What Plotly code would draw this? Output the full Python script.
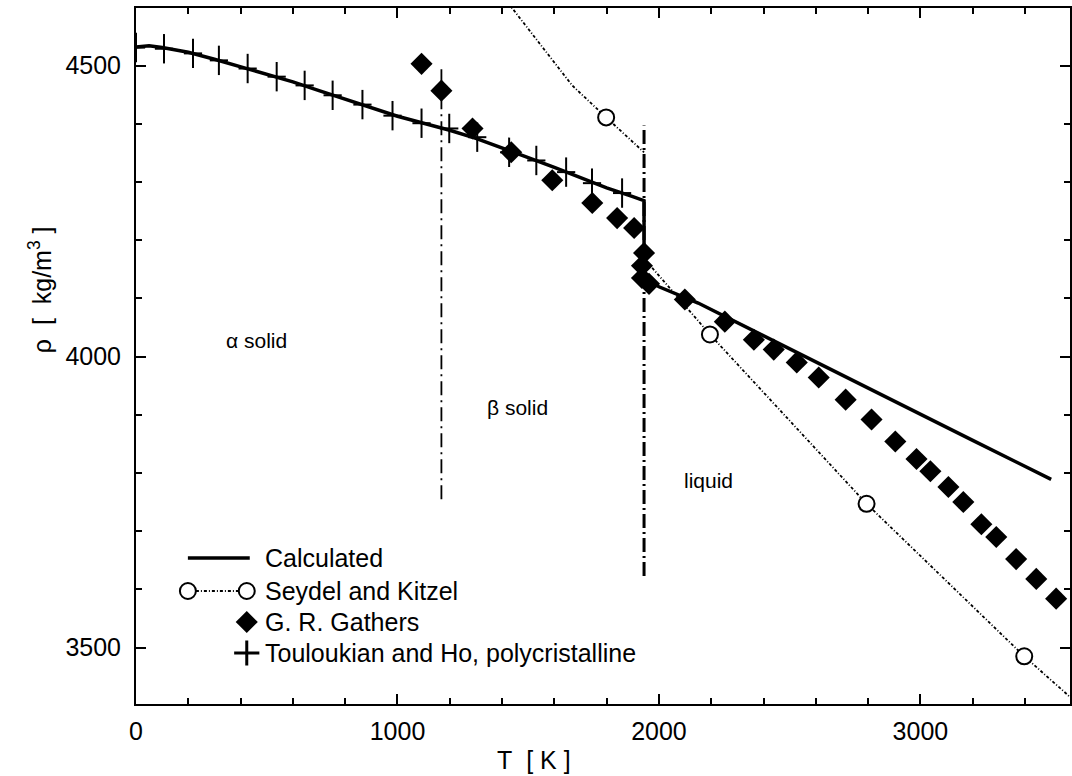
import plotly.graph_objects as go

# Density of titanium versus temperature
FONT = "Liberation Sans"

# Calculated curve (solid, beta solid, drop at melting, liquid)
calc_T = [0, 50, 100, 200, 300, 400, 500, 600, 700, 800, 900, 1000, 1100, 1200,
          1300, 1400, 1500, 1600, 1700, 1800, 1900, 1943, 1943, 2000, 2150, 2500,
          2900, 3200, 3500]
calc_rho = [4532, 4534, 4531, 4523, 4511, 4498, 4486, 4472, 4457, 4442, 4428, 4413,
            4401, 4389, 4375, 4359, 4342, 4325, 4307, 4290, 4275, 4268, 4134, 4120,
            4092, 4013, 3923, 3856, 3789]

# Seydel and Kitzel: measured points and connecting curve (two branches)
seydel_T = [1798, 2195, 2794, 3397]
seydel_rho = [4411, 4038, 3747, 3485]
seydel_line_T = [1350, 1668, 1798, 1943, None, 1954, 2195, 2794, 3397, 3700]
seydel_line_rho = [4650, 4466, 4411, 4351, None, 4163, 4038, 3747, 3485, 3364]

# G. R. Gathers
gathers_T = [1092, 1168, 1287, 1435, 1592, 1745, 1840, 1905, 1943, 1935, 1935, 1962,
             2099, 2252, 2363, 2439, 2527, 2611, 2714, 2813, 2904, 2985, 3038, 3107,
             3164, 3233, 3290, 3366, 3443, 3519]
gathers_rho = [4503, 4457, 4392, 4351, 4303, 4264, 4238, 4221, 4178, 4156, 4135, 4125,
               4098, 4060, 4029, 4012, 3990, 3964, 3926, 3892, 3854, 3824, 3803, 3776,
               3750, 3712, 3690, 3652, 3618, 3584]

# Touloukian and Ho, polycristalline
toul_T = [0, 107, 218, 317, 427, 538, 645, 752, 866, 981, 1092, 1198, 1305, 1427,
          1531, 1645, 1744, 1859]
toul_rho = [4531, 4529, 4521, 4509, 4495, 4481, 4466, 4449, 4433, 4414, 4401, 4392,
            4377, 4351, 4337, 4317, 4298, 4281]

# Phase boundaries
alpha_beta_T = [1168, 1168]
alpha_beta_rho = [3755, 4500]
melt_T = [1943, 1943]
melt_rho = [3623, 4397]

# Region labels
region_labels = ["\u03b1 solid", "\u03b2 solid", "liquid"]

legend_labels = ["Calculated", "Seydel and Kitzel", "G. R. Gathers",
                 "Touloukian and Ho, polycristalline"]

DOTTED = "3px,2px,1px,2px"

fig = go.Figure()

fig.add_trace(go.Scatter(x=alpha_beta_T, y=alpha_beta_rho, mode="lines",
                         line=dict(color="black", width=1.8, dash="14px,5px,2px,5px"),
                         showlegend=False, hoverinfo="skip"))
fig.add_trace(go.Scatter(x=melt_T, y=melt_rho, mode="lines",
                         line=dict(color="black", width=3, dash="14px,4px,2px,4px"),
                         showlegend=False, hoverinfo="skip"))
fig.add_trace(go.Scatter(x=seydel_line_T, y=seydel_line_rho, mode="lines",
                         line=dict(color="black", width=1.8, dash=DOTTED),
                         connectgaps=False, showlegend=False, hoverinfo="skip"))
fig.add_trace(go.Scatter(x=calc_T, y=calc_rho, mode="lines",
                         line=dict(color="black", width=3.5), showlegend=False))
# "+" marks: tall vertical stroke with a shorter horizontal stroke
fig.add_trace(go.Scatter(x=toul_T, y=toul_rho, mode="markers",
                         marker=dict(symbol="line-ns", size=21,
                                     line=dict(color="black", width=2)),
                         showlegend=False))
fig.add_trace(go.Scatter(x=toul_T, y=toul_rho, mode="markers",
                         marker=dict(symbol="line-ew", size=13,
                                     line=dict(color="black", width=2)),
                         showlegend=False, hoverinfo="skip"))
fig.add_trace(go.Scatter(x=gathers_T, y=gathers_rho, mode="markers",
                         marker=dict(symbol="diamond", size=17, color="black"),
                         showlegend=False))
fig.add_trace(go.Scatter(x=seydel_T, y=seydel_rho, mode="markers",
                         marker=dict(symbol="circle", size=16, color="white",
                                     line=dict(color="black", width=2)),
                         showlegend=False))

# Legend keys drawn on a pixel-scaled overlay axis
L = dict(xaxis="x2", yaxis="y2", showlegend=False, hoverinfo="skip")
fig.add_trace(go.Scatter(x=[188, 250], y=[558, 558], mode="lines",
                         line=dict(color="black", width=3.5), **L))
fig.add_trace(go.Scatter(x=[188, 247], y=[591, 591], mode="lines+markers",
                         line=dict(color="black", width=1.8, dash=DOTTED),
                         marker=dict(symbol="circle", size=16, color="white",
                                     line=dict(color="black", width=2)), **L))
fig.add_trace(go.Scatter(x=[247], y=[622], mode="markers",
                         marker=dict(symbol="diamond", size=17, color="black"), **L))
fig.add_trace(go.Scatter(x=[247], y=[653], mode="markers",
                         marker=dict(symbol="cross-thin", size=18,
                                     line=dict(color="black", width=3)), **L))

annotations = []
for lbl, yy in zip(legend_labels, [558, 591, 622, 653]):
    annotations.append(dict(x=263, y=yy, xref="x2", yref="y2", text=lbl,
                            showarrow=False, xanchor="left", yanchor="middle",
                            font=dict(family=FONT, size=25, color="black")))
for lbl, (xx, yy) in zip(region_labels, [(257, 340), (518, 407), (710, 480)]):
    annotations.append(dict(x=xx, y=yy, xref="x2", yref="y2", text=lbl,
                            showarrow=False, xanchor="center", yanchor="middle",
                            font=dict(family=FONT, size=21, color="black")))

# Axis titles placed in paper coordinates
annotations.append(dict(x=0.4263, y=-0.0805, xref="paper", yref="paper",
                        text="T\u00a0\u00a0[\u00a0K\u00a0]", showarrow=False,
                        xanchor="center", yanchor="middle",
                        font=dict(family=FONT, size=25, color="black")))
annotations.append(dict(x=-0.1026, y=0.5948, xref="paper", yref="paper", textangle=-90,
                        text="\u03c1\u00a0\u00a0[\u00a0\u00a0kg/m<sup>3</sup>\u00a0]",
                        showarrow=False, xanchor="center", yanchor="middle",
                        font=dict(family=FONT, size=25, color="black")))

axis_common = dict(showline=True, linewidth=2, linecolor="black", mirror="allticks",
                   ticks="inside", ticklen=10, tickwidth=1.5, tickcolor="black",
                   showgrid=False, zeroline=False,
                   tickfont=dict(family=FONT, size=25, color="black"))

fig.update_layout(
    width=1072, height=776,
    margin=dict(l=136, r=0, t=8, b=72),
    paper_bgcolor="white", plot_bgcolor="white",
    xaxis=dict(range=[0, 3572], tick0=0, dtick=1000,
               minor=dict(dtick=200, ticks="inside", ticklen=6, tickwidth=1.5,
                          tickcolor="black"),
               ticklabelstandoff=4, **axis_common),
    yaxis=dict(range=[3403, 4599], tick0=3500, dtick=500,
               minor=dict(dtick=100, ticks="inside", ticklen=6, tickwidth=1.5,
                          tickcolor="black"),
               ticklabelstandoff=8, **axis_common),
    xaxis2=dict(overlaying="x", range=[136, 1072], visible=False, anchor="y2"),
    yaxis2=dict(overlaying="y", range=[704, 8], visible=False, anchor="x2"),
    annotations=annotations,
    showlegend=False,
)

fig.write_html("out.html")
